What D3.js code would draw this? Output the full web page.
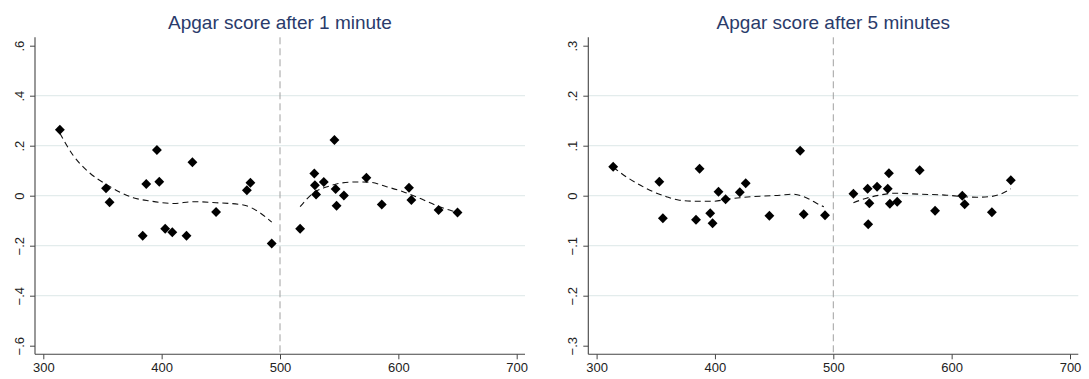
<!DOCTYPE html>
<html lang="en">
<head>
  <meta charset="UTF-8" />
  <title>Apgar scores</title>
  <script src="https://d3js.org/d3.v7.min.js"></script>
  <style>
    body {
      margin: 0;
      background: #fff;
      font-family: "Liberation Sans", Arial, sans-serif;
    }
    .title {
      font-size: 19px;
      fill: #2a3b6b;
      text-anchor: middle;
    }
  </style>
</head>
<body>
  <svg width="1089" height="379"></svg>

  <script>
    // running variable (same for both panels)
    const xs = [314, 353, 356, 384, 387, 396, 398, 403, 409, 421, 426, 446, 472, 475, 493,
                517, 529, 529.5, 530.5, 537, 546, 547, 547.8, 554, 573, 586, 609, 611, 634, 650];

    const apgar1 = [0.264, 0.030, -0.026, -0.160, 0.047, 0.183, 0.056, -0.132, -0.146, -0.160,
                    0.134, -0.065, 0.022, 0.052, -0.191, -0.132, 0.089, 0.042, 0.005, 0.055,
                    0.223, 0.027, -0.040, 0.001, 0.072, -0.035, 0.032, -0.017, -0.057, -0.067];

    const apgar5 = [0.058, 0.028, -0.045, -0.048, 0.054, -0.035, -0.055, 0.008, -0.007, 0.007,
                    0.025, -0.040, 0.090, -0.037, -0.039, 0.004, 0.014, -0.057, -0.015, 0.018,
                    0.014, 0.045, -0.016, -0.012, 0.051, -0.030, 0.000, -0.017, -0.033, 0.031];

    // fitted curves (below / above the cutoff)
    const fit1PreX = [314, 325, 338, 354, 376, 390, 410, 427, 446, 469, 483, 493];
    const fit1PreY = [0.250, 0.163, 0.096, 0.043, -0.008, -0.021, -0.031, -0.024, -0.028, -0.037, -0.068, -0.106];
    const fit1PostX = [517, 528, 540, 551, 565, 576, 590, 604, 618, 633, 645, 650];
    const fit1PostY = [-0.044, 0.010, 0.036, 0.050, 0.055, 0.054, 0.036, 0.016, -0.010, -0.041, -0.060, -0.066];

    const fit5PreX = [314, 323, 334, 345, 359, 370, 382, 399, 410, 421, 438, 455, 466, 478, 489, 492];
    const fit5PreY = [0.057, 0.041, 0.025, 0.011, -0.002, -0.009, -0.011, -0.011, -0.007, -0.004, -0.001, 0.001, 0.003, -0.005, -0.019, -0.022];
    const fit5PostX = [517, 528, 539, 551, 573, 596, 610, 621, 632, 641, 650];
    const fit5PostY = [-0.014, -0.005, 0.001, 0.005, 0.003, 0.001, -0.002, -0.003, -0.002, 0.003, 0.014];

    const xTicks = [300, 400, 500, 600, 700];
    const cutoff = 500;

    const panels = [
      { title: "Apgar score after 1 minute", y: apgar1, lim: 0.6, ticks: [-0.6, -0.4, -0.2, 0, 0.2, 0.4, 0.6],
        grid: [-0.4, -0.2, 0, 0.2, 0.4], fits: [[fit1PreX, fit1PreY], [fit1PostX, fit1PostY]] },
      { title: "Apgar score after 5 minutes", y: apgar5, lim: 0.3, ticks: [-0.3, -0.2, -0.1, 0, 0.1, 0.2, 0.3],
        grid: [-0.2, -0.1, 0, 0.1, 0.2], fits: [[fit5PreX, fit5PreY], [fit5PostX, fit5PostY]] }
    ];

    const fmt = v => v === 0 ? "0" : d3.format(".1f")(v).replace("0.", ".").replace("-", "\u2212");

    const svg = d3.select("svg");
    const axisLeft = 35, axisRight = 525, axisTop = 37.3, axisBottom = 354.3;

    panels.forEach((p, i) => {
      const g = svg.append("g").attr("transform", `translate(${i * 553.3},0)`);

      const x = d3.scaleLinear().domain([300, 700]).range([43.3, 516.7]);
      const y = d3.scaleLinear().domain([-p.lim, p.lim]).range([345.7, 45.7]);

      // gridlines
      g.selectAll(".grid").data(p.grid).enter().append("line")
        .attr("x1", axisLeft).attr("x2", axisRight)
        .attr("y1", d => y(d)).attr("y2", d => y(d))
        .attr("stroke", "#e3ecec").attr("stroke-width", 1.3);

      // cutoff line
      g.append("line")
        .attr("x1", x(cutoff)).attr("x2", x(cutoff))
        .attr("y1", axisTop).attr("y2", axisBottom)
        .attr("stroke", "#a0a0a0").attr("stroke-width", 1)
        .attr("stroke-dasharray", "7,4");

      // axes
      const xAxis = g.append("g").attr("transform", `translate(0,${axisBottom})`)
        .call(d3.axisBottom(x).tickValues(xTicks).tickSize(5).tickPadding(3).tickFormat(d3.format("d")));
      xAxis.select(".domain").attr("d", `M${axisLeft},0H${axisRight}`);

      const yAxis = g.append("g").attr("transform", `translate(${axisLeft},0)`)
        .call(d3.axisLeft(y).tickValues(p.ticks).tickSize(5).tickFormat(fmt));
      yAxis.select(".domain").attr("d", `M0,${axisTop}V${axisBottom}`);

      [xAxis, yAxis].forEach(a => {
        a.attr("font-size", 13).attr("font-family", "Liberation Sans, Arial, sans-serif");
        a.select(".domain").attr("stroke", "#444").attr("stroke-width", 1.1);
        a.selectAll(".tick line").attr("stroke", "#444");
        a.selectAll(".tick text").attr("fill", "#222");
      });
      yAxis.selectAll(".tick text")
        .attr("x", null).attr("dy", null)
        .attr("text-anchor", "middle")
        .attr("transform", "translate(-11.5,0) rotate(-90)");

      // fitted curves
      const line = d3.line().x(d => x(d[0])).y(d => y(d[1])).curve(d3.curveMonotoneX);
      p.fits.forEach(([fx, fy]) => {
        g.append("path")
          .datum(fx.map((v, k) => [v, fy[k]]))
          .attr("d", line)
          .attr("fill", "none")
          .attr("stroke", "#111")
          .attr("stroke-width", 1.1)
          .attr("stroke-dasharray", "6,4");
      });

      // points
      g.selectAll(".pt").data(xs.map((v, k) => [v, p.y[k]])).enter().append("path")
        .attr("transform", d => `translate(${x(d[0])},${y(d[1])})`)
        .attr("d", d3.symbol().type(d3.symbolDiamond2).size(62))
        .attr("fill", "#000");

      g.append("text")
        .attr("class", "title")
        .attr("x", (axisLeft + axisRight) / 2)
        .attr("y", 29)
        .text(p.title);
    });
  </script>
</body>
</html>
